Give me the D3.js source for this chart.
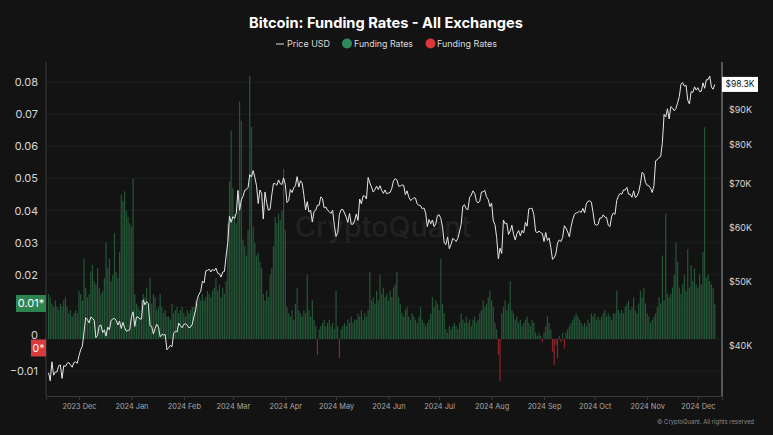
<!DOCTYPE html>
<html><head><meta charset="utf-8">
<script src="https://cdn.jsdelivr.net/npm/d3@7"></script>
<style>
html,body{margin:0;padding:0;background:#131313;}
svg{display:block;font-family:Inter,"Noto Sans",sans-serif;}
</style>
</head><body><svg id="chart" width="773" height="435"></svg>
<script>
// ---------- DATA (daily, starting 2023-11-13) ----------
const startDate = new Date(2023, 10, 13);

// Price USD (thousands)
const priceNov23 = [36.5,35.5,37.9,36.2,36.6,36.6,37.4,37.5,35.8,37.4,37.3,37.7,37.8,37.5,37.2,37.8,37.9,37.7];
const priceDec23 = [38.7,39.5,40.0,42.0,44.1,43.8,43.3,44.2,44.0,43.7,41.2,41.5,42.9,43.0,41.9,42.3,41.4,42.7,42.3,43.7,43.9,44.0,43.7,43.0,43.6,42.5,43.4,42.6,42.1,42.2,42.3];
const priceJan24 = [44.2,45.0,42.8,44.2,44.2,43.9,43.9,46.9,46.1,46.6,46.3,42.9,42.8,41.7,42.5,43.1,42.7,41.3,41.6,41.6,41.6,39.5,39.8,40.1,39.9,41.8,42.1,42.0,43.3,42.9,42.6];
const priceFeb24 = [43.1,43.2,43.0,42.6,42.7,43.1,44.3,45.3,47.1,47.8,48.3,50.0,49.7,51.8,51.9,52.1,51.6,52.1,51.8,52.3,51.4,51.3,50.7,51.6,51.7,54.5,57.1,62.5,61.2];
const priceMar24 = [62.4,62.0,63.1,68.3,63.8,66.1,66.9,68.3,68.5,69.0,72.1,71.5,73.1,71.4,69.4,65.3,68.4,67.6,61.9,67.9,65.5,63.8,64.0,67.2,69.9,69.9,69.5,70.8,69.9,69.7,71.3];
const priceApr24 = [69.7,65.5,66.0,68.5,67.8,68.9,69.4,71.6,69.1,70.6,70.0,67.2,63.9,65.7,63.4,63.8,61.3,63.5,63.8,64.9,64.9,66.8,66.4,64.3,64.5,63.8,63.5,63.1,63.8,60.6];
const priceMay24 = [58.3,59.1,62.9,63.9,64.0,63.2,62.3,61.2,63.1,60.8,60.8,61.5,63.0,61.6,66.3,65.2,67.0,67.0,66.3,71.4,70.1,69.1,67.9,68.5,69.3,68.5,69.4,68.3,67.6,68.4,67.5];
const priceJun24 = [67.7,67.8,68.8,70.6,71.1,70.8,69.3,69.3,69.6,69.5,67.3,68.2,66.8,66.0,66.2,66.6,66.5,65.2,64.9,64.8,64.1,64.3,63.2,60.3,61.8,60.9,61.7,60.3,60.9,62.7];
const priceJul24 = [62.8,62.0,60.2,57.0,56.7,58.2,55.9,56.7,57.9,57.7,57.3,57.9,59.2,60.8,64.7,65.0,64.1,63.9,66.7,67.2,68.2,67.6,65.9,65.4,65.8,67.9,68.0,68.3,66.8,66.2,64.6];
const priceAug24 = [65.4,61.5,60.7,58.1,54.0,56.0,55.0,61.7,60.9,61.0,58.7,59.4,60.6,58.7,57.6,58.9,59.5,58.4,59.5,59.0,61.2,60.4,64.1,64.2,64.2,62.8,59.4,59.0,59.4,59.1,58.9];
const priceSep24 = [57.3,59.1,57.5,58.0,56.2,53.9,54.2,54.9,57.0,57.6,57.3,58.1,60.5,60.0,59.2,58.2,60.3,61.8,62.9,63.2,63.3,63.6,63.3,64.2,63.2,65.2,65.8,65.9,65.6,63.3];
const priceOct24 = [60.8,60.6,60.8,62.1,62.1,62.8,62.3,62.2,60.6,60.3,62.5,63.2,62.9,66.0,67.0,67.6,67.4,68.4,68.4,69.0,67.4,67.4,66.7,68.2,66.6,67.0,67.9,69.9,72.7,72.3,70.2];
const priceNov24 = [69.5,69.4,68.8,67.8,69.4,75.6,75.9,76.5,76.7,80.5,88.7,87.9,90.4,87.3,91.1,90.6,89.8,90.5,92.3,94.3,98.4,98.9,97.7,98.0,93.1,91.9,95.9,95.6,97.5,96.4];
const priceDec24 = [97.2,95.9,96.0,98.8,97.0,99.9,99.9,101.2,97.4,96.7,98.3];

// Funding rates
const fundNov23 = [0.014,0.013,0.011,0.010,0.012,0.010,0.009,0.011,0.010,0.012,0.013,0.010,0.008,0.009,0.007,0.008,0.009,0.008];
const fundDec23 = [0.015,0.014,0.012,0.025,0.016,0.013,0.014,0.021,0.023,0.018,0.017,0.022,0.016,0.014,0.015,0.019,0.030,0.022,0.025,0.018,0.020,0.033,0.021,0.019,0.027,0.045,0.043,0.046,0.040,0.038,0.036];
const fundJan24 = [0.035,0.050,0.014,0.011,0.010,0.009,0.012,0.014,0.013,0.016,0.011,0.019,0.011,0.014,0.013,0.009,0.010,0.014,0.010,0.008,0.009,0.007,0.007,0.006,0.011,0.008,0.009,0.010,0.008,0.009,0.010];
const fundFeb24 = [0.008,0.007,0.009,0.008,0.009,0.010,0.010,0.012,0.011,0.013,0.012,0.014,0.012,0.013,0.015,0.014,0.013,0.015,0.016,0.019,0.015,0.017,0.013,0.016,0.014,0.018,0.036,0.049,0.065];
const fundMar24 = [0.047,0.039,0.036,0.045,0.074,0.068,0.031,0.029,0.026,0.034,0.082,0.066,0.035,0.030,0.026,0.027,0.024,0.022,0.014,0.012,0.015,0.013,0.020,0.022,0.029,0.038,0.036,0.039,0.037,0.040,0.053];
const fundApr24 = [0.034,0.010,0.008,0.007,0.009,0.006,0.011,0.016,0.009,0.008,0.007,0.009,0.008,0.020,0.009,0.007,0.012,0.006,0.004,-0.005,0.003,0.004,0.005,0.006,0.004,0.005,0.006,0.004,0.005,0.003];
const fundMay24 = [0.015,0.004,-0.006,0.003,0.004,0.005,0.004,0.006,0.005,0.007,0.005,0.006,0.006,0.008,0.007,0.009,0.006,0.008,0.007,0.009,0.021,0.012,0.013,0.011,0.015,0.012,0.020,0.014,0.016,0.013,0.014];
const fundJun24 = [0.012,0.015,0.013,0.016,0.017,0.021,0.013,0.011,0.008,0.007,0.009,0.010,0.007,0.006,0.008,0.007,0.006,0.005,0.007,0.010,0.006,0.005,0.004,0.005,0.006,0.008,0.013,0.010,0.012,0.011];
const fundJul24 = [0.009,0.025,0.011,0.008,0.003,0.002,0.004,0.003,0.004,0.005,0.004,0.003,0.005,0.008,0.006,0.005,0.007,0.005,0.006,0.004,0.006,0.007,0.005,0.006,0.008,0.009,0.012,0.010,0.011,0.013,0.015];
const fundAug24 = [0.012,0.010,0.005,0.003,-0.005,-0.013,0.008,0.010,0.012,0.009,0.011,0.018,0.009,0.008,0.006,0.007,0.005,0.006,0.004,0.005,0.006,0.007,0.005,0.004,0.006,0.005,0.002,0.001,0.002,0.001,-0.001];
const fundSep24 = [0.002,0.004,0.007,0.005,0.003,-0.004,-0.008,-0.002,-0.006,0.001,-0.001,0.002,-0.003,0.002,0.003,0.004,0.005,0.006,0.007,0.008,0.007,0.006,0.005,0.004,0.005,0.004,0.006,0.005,0.008,0.007];
const fundOct24 = [0.008,0.006,0.007,0.006,0.007,0.008,0.009,0.007,0.008,0.007,0.006,0.008,0.008,0.015,0.009,0.008,0.009,0.008,0.010,0.011,0.012,0.009,0.010,0.013,0.009,0.008,0.011,0.015,0.013,0.016,0.011];
const fundNov24 = [0.008,0.007,0.005,0.006,0.007,0.008,0.010,0.013,0.011,0.026,0.012,0.039,0.014,0.013,0.014,0.016,0.020,0.030,0.024,0.016,0.014,0.017,0.020,0.015,0.028,0.016,0.023,0.018,0.022,0.017];
const fundDec24 = [0.016,0.020,0.017,0.027,0.066,0.019,0.020,0.018,0.017,0.016,0.011];

const leftTicks = [0.08,0.07,0.06,0.05,0.04,0.03,0.02,0,-0.01];
const gridTicks = [0.08,0.07,0.06,0.05,0.04,0.03,0.02,0.01,0,-0.01];
const rightTicks = [90000,80000,70000,60000,50000,40000];
const monthTicks = [[2023,11],[2024,0],[2024,1],[2024,2],[2024,3],[2024,4],[2024,5],[2024,6],[2024,7],[2024,8],[2024,9],[2024,10],[2024,11]];
const lastPriceLabel = "$98.3K";

// ---------- BUILD ----------
const prices = [].concat(priceNov23,priceDec23,priceJan24,priceFeb24,priceMar24,priceApr24,priceMay24,priceJun24,priceJul24,priceAug24,priceSep24,priceOct24,priceNov24,priceDec24);
const funds = [].concat(fundNov23,fundDec23,fundJan24,fundFeb24,fundMar24,fundApr24,fundMay24,fundJun24,fundJul24,fundAug24,fundSep24,fundOct24,fundNov24,fundDec24);
const data = prices.map((p,i)=>({date:d3.timeDay.offset(startDate,i), price:p*1000, fund:funds[i]}));

const FONT = "Inter,'Noto Sans',sans-serif";
// shrink a text's font-size so that its rendered width equals target
function fit(sel, target){
  sel.each(function(){
    const el=this, w=el.getComputedTextLength();
    if(w>0){ const fs=parseFloat(el.getAttribute("font-size")); el.setAttribute("font-size",(fs*target/w).toFixed(2)); }
  });
}

const svg = d3.select("#chart");
const W=773,H=435;
const L=46,R=722,T=62,B=396;
svg.append("rect").attr("width",W).attr("height",H).attr("fill","#131313");

const x = d3.scaleTime().domain([new Date(2023,10,11,12), new Date(2024,11,15,6)]).range([L,R]);
const yL = d3.scaleLinear().domain([-0.01776,0.0869]).range([B,60]);
const yR = d3.scaleLog().domain([33700,106900]).range([B,60]);

// grid
svg.append("g").selectAll("line").data(gridTicks).join("line")
  .attr("x1",L).attr("x2",R).attr("y1",d=>yL(d)).attr("y2",d=>yL(d))
  .attr("stroke","#1d1d1d").attr("stroke-width",1);

// watermark
const wm = svg.append("text").attr("x",383).attr("y",237).attr("text-anchor","middle")
  .attr("font-size",31).attr("font-weight",500).attr("fill","#ffffff").attr("fill-opacity",0.085)
  .text("CryptoQuant");
fit(wm,176);

// bars
const bw=1.15;
svg.append("g").selectAll("rect").data(data).join("rect")
  .attr("x",d=>x(d.date)-bw/2).attr("width",bw)
  .attr("y",d=>d.fund>=0?yL(d.fund):yL(0))
  .attr("height",d=>Math.abs(yL(d.fund)-yL(0)))
  .attr("fill",d=>d.fund>=0?"#286640":"#a3262c")
  .attr("fill-opacity",d=>d.fund>=0?0.85:0.9);

// price line
svg.append("path").datum(data)
  .attr("d",d3.line().x(d=>x(d.date)).y(d=>yR(d.price)))
  .attr("fill","none").attr("stroke","#e6e6e6").attr("stroke-width",1);

// axes lines
svg.append("line").attr("x1",L).attr("x2",L).attr("y1",T).attr("y2",B).attr("stroke","#3d3d3d");
svg.append("line").attr("x1",R).attr("x2",R).attr("y1",T).attr("y2",B).attr("stroke","#9a9a9a");

// x axis
const xAxis = d3.axisBottom(x)
  .tickValues(monthTicks.map(m=>new Date(m[0],m[1],1)))
  .tickFormat(d3.timeFormat("%Y %b")).tickSize(4).tickPadding(4);
const gx = svg.append("g").attr("transform",`translate(0,${B})`).call(xAxis);
gx.select(".domain").attr("stroke","#3a3a3a");
gx.selectAll(".tick line").attr("stroke","#3a3a3a");
gx.selectAll(".tick text").attr("fill","#a8a8a8").attr("font-size",9.5).attr("font-family",FONT);
{ const t=gx.select(".tick text").node(); const w=t.getComputedTextLength(); gx.selectAll(".tick text").attr("font-size",(9.5*34/w).toFixed(2)); }

// left axis
const yAxisL = d3.axisLeft(yL).tickValues(leftTicks).tickFormat(d=>d===0?"0":d3.format(".2f")(d)).tickSize(0).tickPadding(8);
const gl = svg.append("g").attr("transform",`translate(${L},0)`).call(yAxisL);
gl.select(".domain").remove();
gl.selectAll(".tick text").attr("fill","#d6d6d6").attr("font-size",11).attr("font-family",FONT);
gl.selectAll(".tick").filter(d=>d===0).select("text").attr("dy","-0.05em");

// right axis
const yAxisR = d3.axisRight(yR).tickValues(rightTicks).tickFormat(d=>"$"+(d/1000)+"K").tickSize(0).tickPadding(7);
const gr = svg.append("g").attr("transform",`translate(${R},0)`).call(yAxisR);
gr.select(".domain").remove();
gr.selectAll(".tick text").attr("fill","#d6d6d6").attr("font-size",11).attr("font-family",FONT);
{ const t=gr.select(".tick text").node(); const w=t.getComputedTextLength(); gr.selectAll(".tick text").attr("font-size",(11*23/w).toFixed(2)); }

// last price label
const lastY = yR(data[data.length-1].price);
svg.append("rect").attr("x",R).attr("y",lastY-7.5).attr("width",36).attr("height",15).attr("fill","#ffffff");
const lp = svg.append("text").attr("x",R+18).attr("y",lastY).attr("dy","0.35em").attr("text-anchor","middle")
  .attr("font-size",11).attr("fill","#111").text(lastPriceLabel);
fit(lp,29);

// marker boxes on left axis
svg.append("rect").attr("x",16).attr("y",295).attr("width",30).attr("height",17).attr("fill","#2e8450");
svg.append("text").attr("x",31).attr("y",303.5).attr("dy","0.35em").attr("text-anchor","middle").attr("font-size",11).attr("fill","#fff").text("0.01*");
svg.append("rect").attr("x",31).attr("y",yL(0)+0.5).attr("width",15).attr("height",17).attr("fill","#d83a3d");
svg.append("text").attr("x",38.5).attr("y",yL(0)+9).attr("dy","0.35em").attr("text-anchor","middle").attr("font-size",10.5).attr("fill","#fff").text("0*");

// title
const title = svg.append("text").attr("x",386).attr("y",28).attr("text-anchor","middle")
  .attr("font-size",16.5).attr("font-weight",700).attr("fill","#ffffff")
  .text("Bitcoin: Funding Rates - All Exchanges");
fit(title,274);

// legend
const lg = svg.append("g");
lg.append("line").attr("x1",276).attr("x2",284).attr("y1",44).attr("y2",44).attr("stroke","#dcdcdc").attr("stroke-width",1);
const t1=lg.append("text").attr("x",287).attr("y",44).attr("dy","0.35em").attr("font-size",11).attr("fill","#dcdcdc").text("Price USD");
lg.append("circle").attr("cx",347).attr("cy",43.5).attr("r",5).attr("fill","#2e8b57");
const t2=lg.append("text").attr("x",354).attr("y",44).attr("dy","0.35em").attr("font-size",11).attr("fill","#dcdcdc").text("Funding Rates");
lg.append("circle").attr("cx",430.5).attr("cy",43.5).attr("r",5).attr("fill","#d9363e");
const t3=lg.append("text").attr("x",437).attr("y",44).attr("dy","0.35em").attr("font-size",11).attr("fill","#dcdcdc").text("Funding Rates");
fit(t1,43); fit(t2,59); fit(t3,60);

// credit
const cr = svg.append("text").attr("x",754).attr("y",422).attr("dy","0.35em").attr("text-anchor","end")
  .attr("font-size",7.5).attr("fill","#8a8a8a").text("© CryptoQuant. All rights reserved");
fit(cr,97);
</script>
</body></html>
